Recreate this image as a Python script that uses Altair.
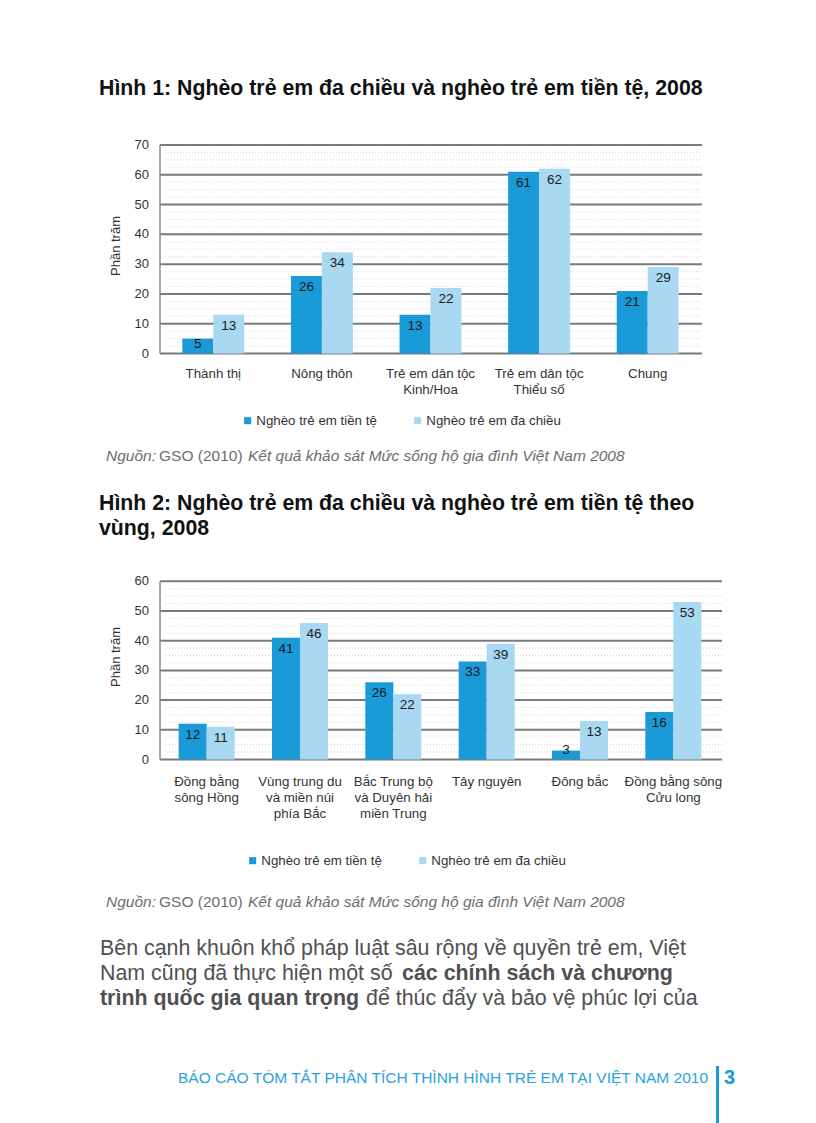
import altair as alt
import pandas as pd

# ---------------- data ----------------
series = ["Nghèo trẻ em tiền tệ", "Nghèo trẻ em đa chiều"]
colors = ["#1a9ad7", "#a8d8f2"]

cats1 = ["Thành thị", "Nông thôn", "Trẻ em dân tộc Kinh/Hoa", "Trẻ em dân tộc Thiểu số", "Chung"]
labels1 = ["Thành thị", "Nông thôn", "Trẻ em dân tộc\nKinh/Hoa", "Trẻ em dân tộc\nThiểu số", "Chung"]
money1 = [5, 26, 13, 61, 21]
multi1 = [13, 34, 22, 62, 29]
ticks1 = [0, 10, 20, 30, 40, 50, 60, 70]

cats2 = ["Đồng bằng sông Hồng", "Vùng trung du và miền núi phía Bắc",
         "Bắc Trung bộ và Duyên hải miền Trung", "Tây nguyên", "Đông bắc",
         "Đồng bằng sông Cửu long"]
labels2 = ["Đồng bằng\nsông Hồng", "Vùng trung du\nvà miền núi\nphía Bắc",
           "Bắc Trung bộ\nvà Duyên hải\nmiền Trung", "Tây nguyên", "Đông bắc",
           "Đồng bằng sông\nCửu long"]
money2 = [12, 41, 26, 33, 3, 16]
multi2 = [11, 46, 22, 39, 13, 53]
ticks2 = [0, 10, 20, 30, 40, 50, 60]

FONT = "Liberation Sans"


def long_df(cats, a, b):
    rows = []
    for c, v1, v2 in zip(cats, a, b):
        rows.append({"cat": c, "series": series[0], "value": v1})
        rows.append({"cat": c, "series": series[1], "value": v2})
    return pd.DataFrame(rows)


def text_layer(txt, x, y, size, color="#222222", weight="normal", style="normal",
               align="left", angle=None, baseline="alphabetic"):
    kw = dict(font=FONT, fontSize=size, color=color, fontWeight=weight,
              fontStyle=style, align=align, baseline=baseline)
    if angle is not None:
        kw["angle"] = angle
    return alt.Chart(pd.DataFrame({"t": [txt]})).mark_text(**kw).encode(
        text="t:N", x=alt.value(x), y=alt.value(y))


def chart_block(cats, labels, a, b, ticks, ymax, xr, yr, pad_in, grid_x2,
                cat_y, legend_x, legend_y, ytitle_y, col_pad):
    df = long_df(cats, a, b)
    xs = alt.Scale(domain=cats, range=xr, paddingInner=pad_in, paddingOuter=pad_in / 2)
    ys = alt.Scale(domain=[0, ymax], range=yr, nice=False, zero=True)
    xos = alt.Scale(domain=series)
    layers = []
    # minor dotted grid
    minor = [t + d for t in ticks[:-1] for d in (2.5, 5, 7.5)]
    layers.append(alt.Chart(pd.DataFrame({"v": minor})).mark_rule(
        color="#d6d6e2", strokeWidth=1, strokeDash=[1, 2]).encode(
        y=alt.Y("v:Q", scale=ys, axis=None), x=alt.value(xr[0] + 6), x2=alt.value(grid_x2)))
    # major grid
    layers.append(alt.Chart(pd.DataFrame({"v": ticks})).mark_rule(
        color="#7a7a7a", strokeWidth=2).encode(
        y=alt.Y("v:Q", scale=ys, axis=None), x=alt.value(160), x2=alt.value(grid_x2)))
    # y axis line
    layers.append(alt.Chart(pd.DataFrame({"a": [0], "b": [ymax]})).mark_rule(
        color="#8a8a8a", strokeWidth=1.5).encode(
        y=alt.Y("a:Q", scale=ys, axis=None), y2="b:Q", x=alt.value(160)))
    # tick labels
    layers.append(alt.Chart(pd.DataFrame({"v": ticks})).mark_text(
        font=FONT, fontSize=13, color="#333333", align="right", baseline="middle").encode(
        y=alt.Y("v:Q", scale=ys, axis=None), x=alt.value(149), text="v:Q"))
    # bars
    layers.append(alt.Chart(df).mark_bar().encode(
        x=alt.X("cat:N", scale=xs, axis=None, sort=cats),
        xOffset=alt.XOffset("series:N", scale=xos, sort=series),
        y=alt.Y("value:Q", scale=ys, axis=None),
        color=alt.Color("series:N", sort=series,
                        scale=alt.Scale(domain=series, range=colors),
                        legend=alt.Legend(title=None, orient="none", legendX=legend_x,
                                          legendY=legend_y, direction="horizontal",
                                          symbolType="square", symbolSize=50,
                                          symbolStrokeWidth=0, labelFont=FONT,
                                          labelFontSize=13.3, labelColor="#333333",
                                          labelOffset=2, columnPadding=col_pad, padding=0))))
    # bar labels
    layers.append(alt.Chart(df).transform_calculate(
        ly="max(datum.value, 7)").mark_text(
        font=FONT, fontSize=13.5, color="#1a1a1a", baseline="middle", dy=11).encode(
        x=alt.X("cat:N", scale=xs, axis=None, sort=cats),
        xOffset=alt.XOffset("series:N", scale=xos, sort=series),
        y=alt.Y("ly:Q", scale=ys, axis=None),
        text="value:Q"))
    # category labels
    layers.append(alt.Chart(pd.DataFrame({"cat": cats, "lab": labels})).mark_text(
        font=FONT, fontSize=13.3, color="#333333", baseline="top", lineBreak="\n",
        lineHeight=16).encode(
        x=alt.X("cat:N", scale=xs, axis=None, sort=cats), y=alt.value(cat_y), text="lab:N"))
    # y title
    layers.append(text_layer("Phần trăm", 116, ytitle_y, 13, color="#333333",
                             align="center", angle=270, baseline="middle"))
    return layers


layers = []
layers += chart_block(cats1, labels1, money1, multi1, ticks1, 70, [159, 702], [353.5, 145],
                      0.43, 702, 367, 241, 414, 246, 34)
layers += chart_block(cats2, labels2, money2, multi2, ticks2, 60, [160, 720], [759.5, 581.3],
                      0.40, 722, 775, 246, 854, 657, 34)

# titles
TS = 21.3
layers.append(text_layer("Hình 1: Nghèo trẻ em đa chiều và nghèo trẻ em tiền tệ, 2008",
                         99, 95, TS, color="#111111", weight="bold"))
layers.append(text_layer("Hình 2: Nghèo trẻ em đa chiều và nghèo trẻ em tiền tệ theo",
                         99, 510, TS, color="#111111", weight="bold"))
layers.append(text_layer("vùng, 2008", 99, 535, TS, color="#111111", weight="bold"))

# sources
SS = 15.5
for yb in (461, 907):
    layers.append(text_layer("Nguồn:", 106, yb, SS, color="#6d6d6d", style="italic"))
    layers.append(text_layer("GSO (2010)", 159, yb, SS, color="#6d6d6d"))
    layers.append(text_layer("Kết quả khảo sát Mức sống hộ gia đình Việt Nam 2008", 248, yb, SS,
                             color="#6d6d6d", style="italic"))

# paragraph
PC = "#505050"
PS = 21.4
layers.append(text_layer("Bên cạnh khuôn khổ pháp luật sâu rộng về quyền trẻ em, Việt",
                         100, 955, PS, color=PC))
layers.append(text_layer("Nam cũng đã thực hiện một số", 100, 980, PS, color=PC))
layers.append(text_layer("các chính sách và chương", 402, 980, PS, color=PC, weight="bold"))
layers.append(text_layer("trình quốc gia quan trọng", 100, 1005, PS, color=PC, weight="bold"))
layers.append(text_layer("để thúc đẩy và bảo vệ phúc lợi của", 366, 1005, PS, color=PC))

# footer
layers.append(text_layer("BÁO CÁO TÓM TẮT PHÂN TÍCH THÌNH HÌNH TRẺ EM TẠI VIỆT NAM 2010",
                         708, 1083, 15.5, color="#2aa3e0", align="right"))
layers.append(alt.Chart(pd.DataFrame({"a": [0]})).mark_rule(
    color="#1a9ad7", strokeWidth=3).encode(
    x=alt.value(717.5), y=alt.value(1066), y2=alt.value(1123)))
layers.append(text_layer("3", 724, 1084, 20, color="#1a9ad7", weight="bold"))

chart = alt.layer(*layers).resolve_scale(
    x="independent", y="independent", color="independent", xOffset="independent"
).properties(
    width=816, height=1123, padding=0, autosize=alt.AutoSizeParams(type="none"),
    background="white"
).configure_view(stroke=None)

chart.save("out.html", embed_options={"renderer": "svg", "actions": False})
